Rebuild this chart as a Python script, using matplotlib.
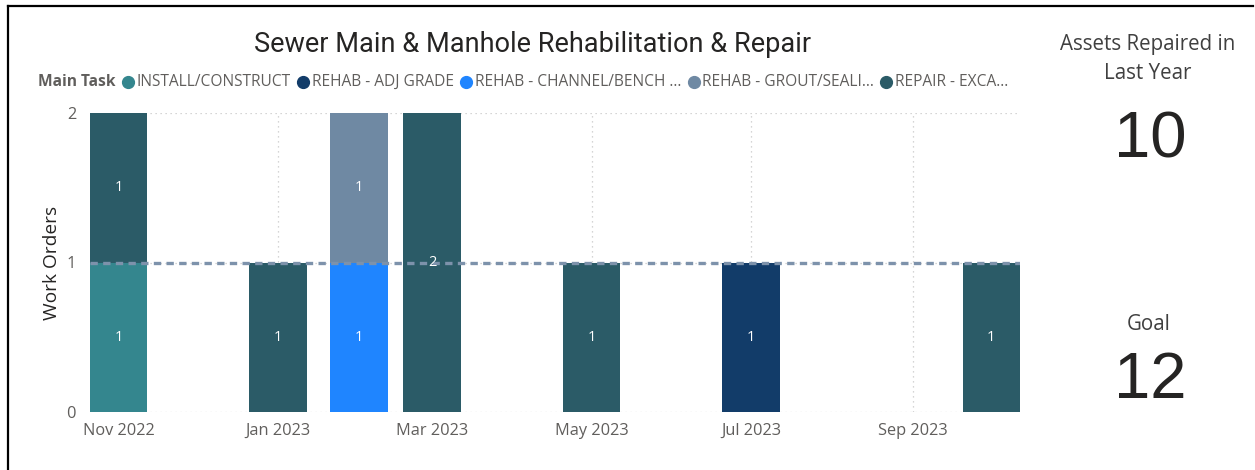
import matplotlib
matplotlib.use("Agg")
import matplotlib.pyplot as plt
import matplotlib.dates as mdates
from matplotlib.lines import Line2D
import numpy as np
import pandas as pd

# ---------------- data ----------------
months = ["2022-11-01", "2023-01-01", "2023-02-01", "2023-03-01",
          "2023-05-01", "2023-07-01", "2023-10-01"]
task_names = ["INSTALL/CONSTRUCT", "REHAB - ADJ GRADE", "REHAB - CHANNEL/BENCH ...",
              "REHAB - GROUT/SEALI...", "REPAIR - EXCA..."]
install_construct = [1, 0, 0, 0, 0, 0, 0]
rehab_adj_grade = [0, 0, 0, 0, 0, 1, 0]
rehab_channel_bench = [0, 0, 1, 0, 0, 0, 0]
rehab_grout_seal = [0, 0, 1, 0, 0, 0, 0]
repair_excavate = [1, 1, 0, 2, 1, 0, 1]
series = [install_construct, rehab_adj_grade, rehab_channel_bench,
          rehab_grout_seal, repair_excavate]
task_colors = ["#34868E", "#123C69", "#1F85FF", "#6F89A3", "#2B5B67"]

x_tick_labels = ["Nov 2022", "Jan 2023", "Mar 2023", "May 2023", "Jul 2023", "Sep 2023"]
x_tick_dates = ["2022-11-01", "2023-01-01", "2023-03-01", "2023-05-01",
                "2023-07-01", "2023-09-01"]
y_ticks = [0, 1, 2]
target_per_month = 1

title = "Sewer Main & Manhole Rehabilitation & Repair"
kpi_label = "Assets Repaired in\nLast Year"
kpi_value = "10"
goal_label = "Goal"
goal_value = "12"

# ---------------- figure ----------------
W, H = 1255, 470
fig = plt.figure(figsize=(W / 100, H / 100), dpi=100)
fig.patch.set_facecolor("white")

def fx(px):
    return px / W

def fy(py):
    return 1 - py / H

ax = fig.add_axes([fx(90), fy(412), fx(1020) - fx(90), fy(113) - fy(412)])

xd = mdates.date2num(pd.to_datetime(months))
bar_w = 22
bottom = np.zeros(len(months))
for vals, col in zip(series, task_colors):
    vals = np.array(vals, dtype=float)
    ax.bar(xd, vals, width=bar_w, bottom=bottom, color=col,
           edgecolor="none", zorder=2)
    for xi, v, b in zip(xd, vals, bottom):
        if v > 0:
            ax.text(xi, b + v / 2, f"{int(v)}", ha="center", va="center",
                    color="white", fontsize=10.5, family="Open Sans", zorder=4)
    bottom += vals

ax.axhline(target_per_month, color="#7D92AB", lw=2.4, ls=(0, (2.2, 1.6)), zorder=3)

x0 = mdates.date2num(pd.Timestamp("2022-11-01")) - 11
x1 = mdates.date2num(pd.Timestamp("2023-10-01")) + 11
ax.set_xlim(x0, x1)
ax.set_ylim(0, 2)

ax.set_xticks(mdates.date2num(pd.to_datetime(x_tick_dates)))
ax.set_xticklabels(x_tick_labels)
ax.set_yticks(y_ticks)
ax.set_yticklabels([str(t) for t in y_ticks])
ax.tick_params(axis="both", length=0, labelcolor="#605E5C", labelsize=11.8)
ax.tick_params(axis="x", pad=8)
ax.tick_params(axis="y", pad=10)
for lab in ax.get_xticklabels() + ax.get_yticklabels():
    lab.set_family("Open Sans")

ax.grid(True, color="#C8C8C8", lw=0.9, ls=(0, (1, 3)), zorder=0)
ax.set_axisbelow(True)
for s in ax.spines.values():
    s.set_visible(False)

ax.set_ylabel("Work Orders", fontsize=13.8, color="#252423", family="Open Sans", labelpad=4)

# title
fig.text(fx(533), fy(45), title, ha="center", va="center", fontsize=19.5,
         family="Roboto", color="#252423")

# legend (manual)
renderer = fig.canvas.get_renderer()
ly = fy(82)
t = fig.text(fx(38), ly, "Main Task", ha="left", va="center", fontsize=11.2,
             family="Open Sans", weight="bold", color="#605E5C")
bb = t.get_window_extent(renderer)
cur = bb.x1 + 7
for name, col in zip(task_names, task_colors):
    r = 5.5
    fig.add_artist(Line2D([fx(cur + r)], [ly], marker="o", markersize=8.5,
                          color=col, lw=0, transform=fig.transFigure))
    cur += 2 * r + 3
    tt = fig.text(fx(cur), ly, name, ha="left", va="center", fontsize=11.2,
                  family="Open Sans", color="#605E5C")
    bb = tt.get_window_extent(renderer)
    cur = bb.x1 + 7

# KPI cards
fig.text(fx(1148), fy(59), kpi_label, ha="center", va="center", fontsize=14.8,
         family="Open Sans", color="#404040", linespacing=1.5)
fig.text(fx(1150), fy(140), kpi_value, ha="center", va="center", fontsize=47,
         family="Liberation Sans", color="#252423")
fig.text(fx(1149), fy(325), goal_label, ha="center", va="center", fontsize=14.8,
         family="Open Sans", color="#404040")
fig.text(fx(1150), fy(381), goal_value, ha="center", va="center", fontsize=47,
         family="Liberation Sans", color="#252423")

# frame lines (left and top)
fig.add_artist(Line2D([fx(8), fx(8)], [fy(470), fy(6)], color="black", lw=1.6,
                      transform=fig.transFigure))
fig.add_artist(Line2D([fx(7.5), fx(1253)], [fy(6), fy(6)], color="black", lw=1.6,
                      transform=fig.transFigure))

fig.savefig("out.png", dpi=100, facecolor="white")
